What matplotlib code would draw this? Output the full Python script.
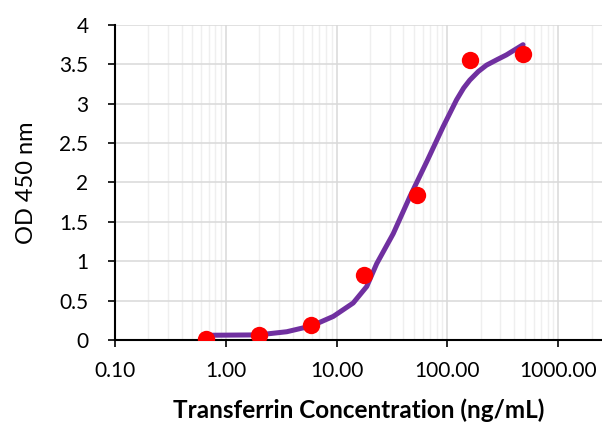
import numpy as np
import matplotlib
matplotlib.use("Agg")
import matplotlib.pyplot as plt
from matplotlib.ticker import LogLocator, FuncFormatter, MultipleLocator, NullFormatter

# measured standards (3-fold dilution series)
conc = [0.66, 1.98, 5.93, 17.8, 53.3, 160.0, 480.0]
od450 = [0.01, 0.06, 0.19, 0.83, 1.84, 3.55, 3.63]

# fitted curve
curve_x = [0.68, 1.97, 3.55, 5.97, 9.34, 14.1, 18.7, 23.0, 32.4, 45.8,
           64.8, 91.5, 120.8, 140.0, 159.0, 190.0, 225.0, 280.0, 340.0, 481.0]
curve_y = [0.06, 0.065, 0.105, 0.18, 0.30, 0.47, 0.68, 0.97, 1.35, 1.82,
           2.26, 2.71, 3.05, 3.20, 3.30, 3.41, 3.49, 3.56, 3.62, 3.75]

plt.rcParams["font.family"] = ["Lato", "DejaVu Sans"]

fig = plt.figure(figsize=(6.02, 4.24), dpi=100)
ax = fig.add_axes([115 / 602, 84 / 424, 487 / 602, 315 / 424])

ax.plot(curve_x, curve_y, color="#7030a0", lw=3.6, solid_capstyle="round",
        solid_joinstyle="round", zorder=3)
ax.plot(conc, od450, "o", color="#ff0000", ms=12.5, mec="none", zorder=4)

ax.set_xscale("log")
ax.set_xlim(0.1, 2480)
ax.set_ylim(0, 4)
ax.xaxis.set_major_locator(LogLocator(base=10, numticks=10))
ax.xaxis.set_minor_locator(LogLocator(base=10, subs=np.arange(2, 10), numticks=20))
ax.xaxis.set_major_formatter(FuncFormatter(lambda v, p: f"{v:.2f}"))
ax.xaxis.set_minor_formatter(NullFormatter())
ax.yaxis.set_major_locator(MultipleLocator(0.5))
ax.yaxis.set_major_formatter(FuncFormatter(lambda v, p: f"{v:g}"))

ax.grid(True, which="major", color="#d9d9d9", lw=1.1, zorder=0)
ax.grid(True, which="minor", axis="x", color="#efefef", lw=1.0, zorder=0)
ax.set_axisbelow(True)

for s in ("top", "right"):
    ax.spines[s].set_visible(False)
for s in ("left", "bottom"):
    ax.spines[s].set_color("black")
    ax.spines[s].set_linewidth(1.5)

ax.tick_params(axis="both", which="major", length=5, width=1.2, color="black",
               labelsize=15)
ax.tick_params(axis="x", which="minor", length=0)
ax.tick_params(axis="x", which="major", pad=10)
ax.tick_params(axis="y", which="major", pad=14)

ax.set_ylabel("OD 450 nm", fontsize=17, labelpad=16)
ax.set_xlabel("Transferrin Concentration (ng/mL)", fontsize=17.5, fontweight="bold",
              labelpad=13)

plt.savefig("out.png", dpi=100, facecolor="white")
plt.close()
